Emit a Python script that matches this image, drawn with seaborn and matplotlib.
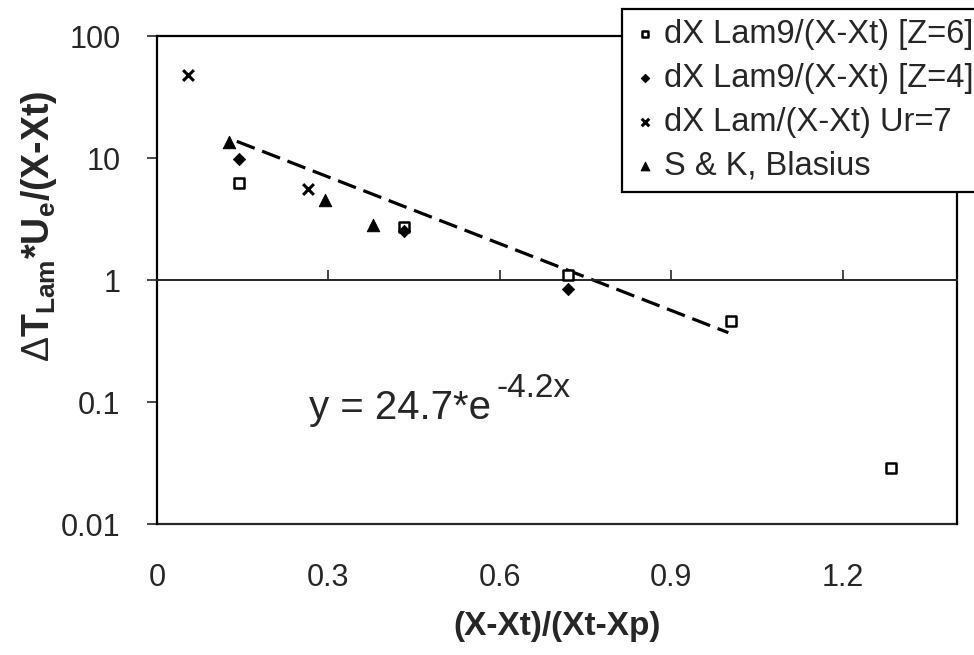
import matplotlib
matplotlib.use("Agg")
import matplotlib.pyplot as plt
import seaborn as sns

# data
sq_x = [0.144, 0.433, 0.719, 1.004, 1.285]
sq_y = [6.2, 2.7, 1.1, 0.46, 0.029]
dia_x = [0.144, 0.433, 0.719]
dia_y = [9.9, 2.5, 0.84]
cross_x = [0.055, 0.264]
cross_y = [48.0, 5.6]
tri_x = [0.126, 0.294, 0.379]
tri_y = [13.5, 4.5, 2.8]
# trend line end points (straight on log axis)
trend_x = [0.14, 1.0]
trend_y = [13.7, 0.37]

labels = ["dX Lam9/(X-Xt) [Z=6]", "dX Lam9/(X-Xt) [Z=4]",
          "dX Lam/(X-Xt) Ur=7", "S & K, Blasius"]
x_ticks = [0, 0.3, 0.6, 0.9, 1.2]
y_ticks = [0.01, 0.1, 1, 10, 100]
y_ticklabels = ["0.01", "0.1", "1", "10", "100"]

sns.set_style("white")
plt.rcParams["font.family"] = ["Liberation Sans", "DejaVu Sans"]
plt.rcParams["mathtext.fontset"] = "custom"
plt.rcParams["mathtext.rm"] = "Liberation Sans"
plt.rcParams["mathtext.bf"] = "Liberation Sans:bold"

fig = plt.figure(figsize=(9.74, 6.55), dpi=100)
ax = fig.add_axes([0.161, 0.2, 0.8215, 0.745])

sns.lineplot(x=trend_x, y=trend_y, ax=ax, color="black", linestyle=(0, (6, 2.5)),
             linewidth=2.3, legend=False)
sns.scatterplot(x=sq_x, y=sq_y, ax=ax, marker="s", s=45, facecolor="white",
                edgecolor="black", linewidth=1.8, label=labels[0], zorder=3)
sns.scatterplot(x=dia_x, y=dia_y, ax=ax, marker="D", s=40, color="black",
                edgecolor="black", label=labels[1], zorder=3)
sns.scatterplot(x=cross_x, y=cross_y, ax=ax, marker="x", s=60, color="black",
                linewidth=2.2, label=labels[2], zorder=3)
sns.scatterplot(x=tri_x, y=tri_y, ax=ax, marker="^", s=80, color="black",
                edgecolor="black", label=labels[3], zorder=3)

ax.set_yscale("log")
ax.set_xlim(0, 1.4)
ax.set_ylim(0.01, 100)

# x axis crosses at y = 1, tick marks pointing up
ax.spines["bottom"].set_position(("data", 1))
ax.spines["bottom"].set_linewidth(1.4)
ax.set_xticks(x_ticks)
ax.tick_params(axis="x", direction="in", length=7, width=1.2, labelbottom=False, bottom=True)
ax.set_xlabel("")

for side in ["left", "top", "right"]:
    ax.spines[side].set_color("black")
    ax.spines[side].set_linewidth(1.6)

ax.set_yticks(y_ticks)
ax.set_yticklabels(y_ticklabels)
ax.minorticks_off()
ax.tick_params(axis="y", direction="out", length=7, width=1.2, labelsize=22, pad=19, left=True)

# frame bottom with the tick labels
sec = ax.secondary_xaxis(0)
sec.set_xticks(x_ticks)
sec.set_xticklabels(["0", "0.3", "0.6", "0.9", "1.2"])
sec.tick_params(length=0, labelsize=22, pad=28)
sec.spines["bottom"].set_linewidth(1.6)
sec.set_xlabel("(X-Xt)/(Xt-Xp)", fontsize=24, fontweight="bold", labelpad=13)

ax.set_ylabel(r"$\Delta$T$_{\mathbf{Lam}}$*U$_{\mathbf{e}}$/(X-Xt)", fontsize=27, fontweight="bold")
ax.yaxis.set_label_coords(-0.122, 0.61)

ax.text(0.267, 0.072, "y = 24.7*e", fontsize=29, ha="left", va="baseline")
ax.text(0.594, 0.11, "-4.2x", fontsize=24, ha="left", va="baseline")

leg = ax.legend(loc="upper left", bbox_to_anchor=(622 / 974, 1 - 9 / 655),
                bbox_transform=fig.transFigure, fontsize=23.5, frameon=True,
                fancybox=False, edgecolor="black", framealpha=1,
                handletextpad=0.2, handlelength=0.8, borderpad=0.3,
                labelspacing=0.4, markerscale=0.7, borderaxespad=0)
leg.get_frame().set_linewidth(1.6)

fig.savefig("out.png", dpi=100)
